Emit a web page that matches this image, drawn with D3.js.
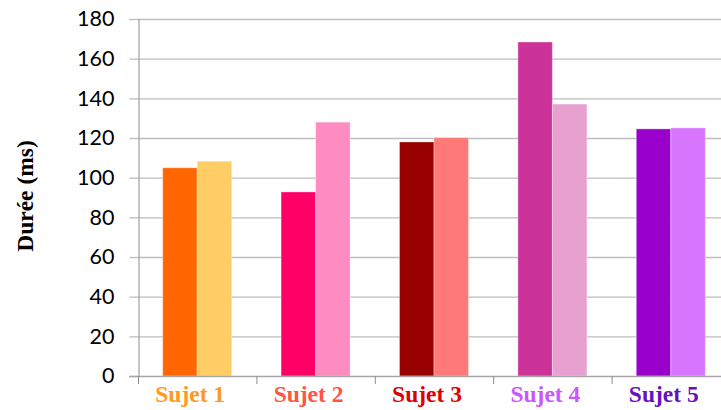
<!DOCTYPE html>
<html><head><meta charset="utf-8">
<script src="https://cdn.jsdelivr.net/npm/d3@7/dist/d3.min.js"></script>
<style>
html,body{margin:0;padding:0;background:#fff;overflow:hidden}
svg{display:block}
</style></head>
<body>
<svg id="chart" width="721" height="410"></svg>
<script>
const categories = ["Sujet 1","Sujet 2","Sujet 3","Sujet 4","Sujet 5"];
const series = ["A","B"];
const valuesA = [105, 92.8, 118, 168.4, 124.6];
const valuesB = [108.3, 128, 120.2, 137.1, 125.1];
const colorsA = ["#FF6600","#FF0066","#990000","#CC3399","#9900CC"];
const colorsB = ["#FFCC66","#FF8CC0","#FF7979","#E8A0D0","#D875FF"];
const labelColors = ["#FF9922","#FF5544","#DD0000","#CC55FF","#6611BB"];
const yTicks = [0,20,40,60,80,100,120,140,160,180];

(function(){
const svg = d3.select("#chart");
const mLeft = 138, mRight = 730, mTop = 19, mBottom = 376;

const x0 = d3.scaleBand().domain(categories).range([mLeft, mRight])
  .paddingInner(0.417).paddingOuter(0.2085);
const x1 = d3.scaleBand().domain(series).range([0, x0.bandwidth()]);
const y = d3.scaleLinear().domain([0,180]).range([mBottom, mTop]);

// gridlines
svg.append("g").selectAll("line").data(yTicks.filter(d=>d>0)).join("line")
  .attr("x1", mLeft).attr("x2", 721)
  .attr("y1", d=>y(d)+0.5).attr("y2", d=>y(d)+0.5)
  .attr("stroke", "#BEBEBE").attr("stroke-width", 1.3);

// y axis
const yAxis = d3.axisLeft(y).tickValues(yTicks).tickSize(9).tickPadding(15);
const gy = svg.append("g").attr("transform", `translate(${mLeft+0.5},0)`).call(yAxis);
gy.select(".domain").attr("stroke","#8C8C8C");
gy.selectAll(".tick line").attr("stroke","#BEBEBE").attr("stroke-width",1.3);
gy.selectAll(".tick text").attr("font-family","Lato, 'Open Sans', sans-serif")
  .attr("font-size", 21.5).attr("fill","#000");

// bars
const data = categories.map((c,i)=>({c, i, vals:[
  {s:"A", v:valuesA[i], col:colorsA[i]},
  {s:"B", v:valuesB[i], col:colorsB[i]}]}));
const groups = svg.append("g").selectAll("g").data(data).join("g")
  .attr("transform", d=>`translate(${x0(d.c)},0)`);
groups.selectAll("rect").data(d=>d.vals).join("rect")
  .attr("x", d=>x1(d.s)).attr("width", x1.bandwidth())
  .attr("y", d=>y(d.v)).attr("height", d=>y(0)-y(d.v))
  .attr("fill", d=>d.col)
  .attr("stroke", "rgba(255,255,255,0.35)").attr("stroke-width", 1);

// x axis line
svg.append("line").attr("x1", mLeft-9).attr("x2", 721)
  .attr("y1", mBottom+0.5).attr("y2", mBottom+0.5)
  .attr("stroke","#A6A6A6").attr("stroke-width",1.3);
// category boundary ticks
const step = x0.step();
const bounds = categories.map(c => x0(c) - (step - x0.bandwidth())/2).concat([mRight]);
svg.append("g").selectAll("line").data(bounds).join("line")
  .attr("x1", d=>d+0.5).attr("x2", d=>d+0.5)
  .attr("y1", mBottom).attr("y2", mBottom+8)
  .attr("stroke","#8C8C8C").attr("stroke-width",1);

// category labels
svg.append("g").selectAll("text").data(categories).join("text")
  .attr("x", d=>x0(d)+x0.bandwidth()/2 - 7)
  .attr("y", 402)
  .attr("text-anchor","middle")
  .attr("font-family","'Liberation Serif', 'Times New Roman', serif")
  .attr("font-weight","bold").attr("font-size", 23.5)
  .attr("fill", (d,i)=>labelColors[i])
  .text(d=>d);

// y title
svg.append("text")
  .attr("transform","translate(33,196) rotate(-90)")
  .attr("text-anchor","middle")
  .attr("font-family","'Liberation Serif', 'Times New Roman', serif")
  .attr("font-weight","bold").attr("font-size", 23.5)
  .attr("fill","#000")
  .text("Durée (ms)");
})();
</script>
</body></html>
